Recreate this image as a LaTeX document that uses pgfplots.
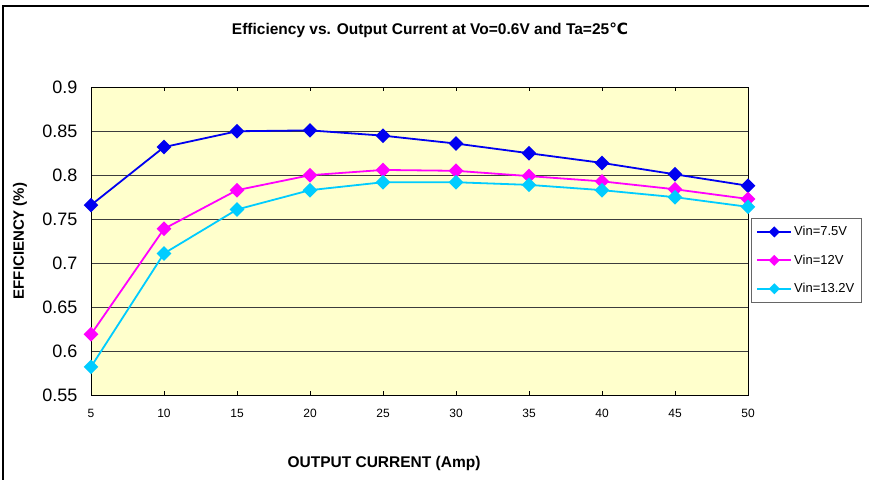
\documentclass[border=0pt]{standalone}
\usepackage{pgfplots}
\pgfplotsset{compat=1.18}
\usepackage{fontspec}
\setmainfont{Liberation Sans}
\newfontfamily\dejavu{DejaVu Sans}
\definecolor{bgyellow}{RGB}{255,255,204}
\definecolor{sblue}{RGB}{0,0,240}
\definecolor{smag}{RGB}{255,0,255}
\definecolor{scyan}{RGB}{0,204,255}
\definecolor{gridc}{RGB}{60,60,60}
\begin{document}
\begin{tikzpicture}[x=1pt,y=1pt]
\useasboundingbox (0,0) rectangle (869,479);
\draw[line width=2.5pt] (3,-10) -- (3,473) -- (880,473);
\begin{axis}[
  at={(91pt,84pt)}, anchor=south west,
  scale only axis, width=657pt, height=307.7pt,
  xmin=5, xmax=50, ymin=0.55, ymax=0.9,
  xtick={5,10,...,50},
  ytick={0.55,0.6,...,0.9},
  axis background/.style={fill=bgyellow},
  axis line style={black, line width=1pt},
  ymajorgrids, major grid style={gridc, line width=0.9pt},
  x tick style={black, line width=0.8pt}, major tick length=4pt,
  tick align=inside,
  y tick style={draw=none},
  /pgf/number format/assume math mode=true,
  xticklabel style={font=\fontsize{12}{14}\selectfont, yshift=-11pt},
  yticklabel style={font=\fontsize{18}{20}\selectfont, xshift=-10pt,
     /pgf/number format/fixed, /pgf/number format/precision=2},
  legend style={at={(1.0046,0.575)}, anchor=north west, draw=gray!80!black, line width=0.8pt,
     fill=white, font=\fontsize{13}{15}\selectfont, row sep=13.5pt,
     inner xsep=5pt, inner ysep=6pt, column 2/.style={nodes={text width=66pt}}},
  legend cell align=left,
  legend image code/.code={
    \draw[#1, mark=none] (0pt,0pt) -- (34pt,0pt);
    \draw[#1, mark size=3pt] plot coordinates {(17pt,0pt)};
  },
  every axis plot/.append style={line width=1.8pt, mark=square*, mark size=4.3pt},
  clip=false,
]
\addplot[color=sblue, mark options={fill=sblue, draw=sblue, rotate=45, solid}] coordinates {
 (5,0.766)(10,0.832)(15,0.850)(20,0.851)(25,0.845)(30,0.836)(35,0.825)(40,0.814)(45,0.801)(50,0.788)};
\addlegendentry{Vin=7.5V}
\addplot[color=smag, mark options={fill=smag, draw=smag, rotate=45, solid}] coordinates {
 (5,0.619)(10,0.739)(15,0.783)(20,0.800)(25,0.806)(30,0.805)(35,0.799)(40,0.793)(45,0.784)(50,0.773)};
\addlegendentry{Vin=12V}
\addplot[color=scyan, mark options={fill=scyan, draw=scyan, rotate=45, solid}] coordinates {
 (5,0.582)(10,0.711)(15,0.761)(20,0.783)(25,0.792)(30,0.792)(35,0.789)(40,0.783)(45,0.775)(50,0.764)};
\addlegendentry{Vin=13.2V}
\end{axis}
\node[font=\bfseries\fontsize{15.5}{18}\selectfont] at (430,448.7) {Efficiency vs. Output Current at Vo=0.6V and Ta=25{\dejavu ℃}};
\node[font=\bfseries\fontsize{15.5}{18}\selectfont] at (384,15.3) {OUTPUT CURRENT (Amp)};
\node[font=\bfseries\fontsize{15}{18}\selectfont, rotate=90] at (20,238) {EFFICIENCY (\%)};
\end{tikzpicture}
\end{document}
